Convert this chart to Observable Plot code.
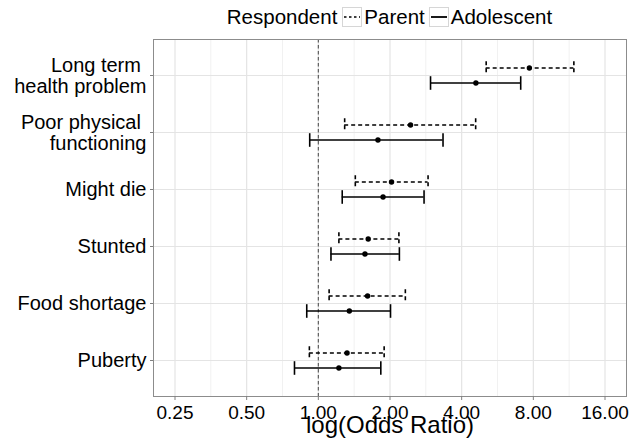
<!DOCTYPE html>
<html>
<head>
<meta charset="utf-8">
<script src="https://cdn.jsdelivr.net/npm/d3@7"></script>
<script src="https://cdn.jsdelivr.net/npm/@observablehq/plot@0.6"></script>
<style>
  body { margin: 0; background: #fff; font-family: "Liberation Sans", Arial, sans-serif; }
  #wrap { width: 644px; height: 444px; position: relative; overflow: hidden; }
  #legend { position: absolute; left: 153px; width: 473px; top: 0; height: 34px; display: flex; align-items: center; justify-content: center; font-size: 20.5px; color: #000; white-space: pre; }
  #legend svg { display: block; }
  #chart { position: absolute; left: 0; top: 34px; }
  #chart svg text { white-space: pre; }
</style>
</head>
<body>
<div id="wrap">
  <div id="legend"></div>
  <div id="chart"></div>
</div>
<script>
// ---- data ----
const categories = ["Long term \nhealth problem", "Poor physical \nfunctioning", "Might die", "Stunted", "Food shortage", "Puberty"];
const respondents = ["Parent", "Adolescent"];
const parentOR = [7.70, 2.44, 2.03, 1.62, 1.61, 1.32];
const parentLo = [5.07, 1.29, 1.43, 1.22, 1.11, 0.917];
const parentHi = [11.84, 4.58, 2.89, 2.18, 2.32, 1.89];
const adolOR   = [4.59, 1.78, 1.87, 1.57, 1.35, 1.22];
const adolLo   = [2.96, 0.92, 1.26, 1.13, 0.894, 0.794];
const adolHi   = [7.08, 3.34, 2.78, 2.19, 2.01, 1.83];
const xTicks = [0.25, 0.5, 1, 2, 4, 8, 16];
const xLimits = [0.25, 16];
const refLine = [1];
const legendTitle = "Respondent";
const axisTitle = "log(Odds Ratio)";

// ---- build tables ----
const rows = (who, o, lo, hi) => categories.map((c, i) => ({cat: c, who, or: o[i], lo: lo[i], hi: hi[i]}));
const parent = rows(respondents[0], parentOR, parentLo, parentHi);
const adol = rows(respondents[1], adolOR, adolLo, adolHi);

const pad = 0.05 * Math.log2(xLimits[1] / xLimits[0]);
const xDomain = [xLimits[0] * 2 ** -pad, xLimits[1] * 2 ** pad];
const minorTicks = xTicks.slice(1).map((v, i) => Math.sqrt(v * xTicks[i]));

const vbar = {draw(ctx, size) { const h = Math.sqrt(size / Math.PI); ctx.moveTo(0, -h); ctx.lineTo(0, h); }};
const dash = "4,3";
const lw = 1.6;
const fmt = d3.format(".2f");

function series(data, off, dashed) {
  const extra = dashed ? {strokeDasharray: dash} : {};
  return [
    Plot.ruleY(data, {y: "cat", x1: "lo", x2: "hi", dy: off, stroke: "#000", strokeWidth: lw, ...extra}),
    Plot.dot(data, {x: "lo", y: "cat", dy: off, symbol: vbar, r: 6.8, stroke: "#000", strokeWidth: lw, fill: "none", ...extra}),
    Plot.dot(data, {x: "hi", y: "cat", dy: off, symbol: vbar, r: 6.8, stroke: "#000", strokeWidth: lw, fill: "none", ...extra}),
    Plot.dot(data, {x: "or", y: "cat", dy: off, r: 2.7, fill: "#000", stroke: "none"})
  ];
}

const chart = Plot.plot({
  width: 644, height: 410,
  marginTop: 5, marginBottom: 48, marginLeft: 153, marginRight: 18,
  style: {fontFamily: '"Liberation Sans", Arial, sans-serif', background: "#fff", color: "#000", overflow: "visible"},
  x: {type: "log", base: 2, domain: xDomain},
  y: {type: "point", domain: categories, padding: 0.6},
  marks: [
    Plot.ruleX(minorTicks, {stroke: "#f1f1f1", strokeWidth: 1}),
    Plot.ruleX(xTicks, {stroke: "#e4e4e4", strokeWidth: 1.2}),
    Plot.ruleY(categories, {stroke: "#e4e4e4", strokeWidth: 1.2}),
    Plot.ruleX(refLine, {stroke: "#555", strokeWidth: 1.1, strokeDasharray: "3.5,2.5"}),
    Plot.frame({stroke: "#8c8c8c", strokeWidth: 1}),
    Plot.axisX(xTicks, {tickFormat: fmt, tickSize: 4, tickPadding: 5, fontSize: 19, stroke: "#7f7f7f", fill: "#000", label: null}),
    Plot.axisY({tickSize: 3, tickPadding: 4, fontSize: 20, lineHeight: 1.05, stroke: "#7f7f7f", fill: "#000", label: null}),
    Plot.text([axisTitle], {text: d => d, frameAnchor: "bottom", lineAnchor: "bottom", dy: 36.5, fontSize: 24, fill: "#000"}),
    ...series(parent, -7.5, true),
    ...series(adol, 7.5, false)
  ]
});
document.getElementById("chart").appendChild(chart);

// ---- legend ----
const legend = document.getElementById("legend");
function span(t, mr) { const s = document.createElement("span"); s.textContent = t; s.style.marginRight = mr + "px"; return s; }
function key(dashed, mr) {
  const ns = "http://www.w3.org/2000/svg";
  const svg = document.createElementNS(ns, "svg");
  svg.setAttribute("width", 20); svg.setAttribute("height", 20);
  svg.style.marginRight = mr + "px";
  const r = document.createElementNS(ns, "rect");
  r.setAttribute("x", 0.5); r.setAttribute("y", 0.5); r.setAttribute("width", 19); r.setAttribute("height", 19);
  r.setAttribute("fill", "#fff"); r.setAttribute("stroke", "#d6d6d6");
  svg.appendChild(r);
  const l = document.createElementNS(ns, "line");
  l.setAttribute("x1", 2); l.setAttribute("x2", 18); l.setAttribute("y1", 10); l.setAttribute("y2", 10);
  l.setAttribute("stroke", "#000"); l.setAttribute("stroke-width", dashed ? 1.3 : 1.8);
  if (dashed) l.setAttribute("stroke-dasharray", "2.5,2.5");
  svg.appendChild(l);
  return svg;
}
legend.appendChild(span(legendTitle, 5));
legend.appendChild(key(true, 2));
legend.appendChild(span(respondents[0], 4));
legend.appendChild(key(false, 2));
legend.appendChild(span(respondents[1], 0));
</script>
</body>
</html>
